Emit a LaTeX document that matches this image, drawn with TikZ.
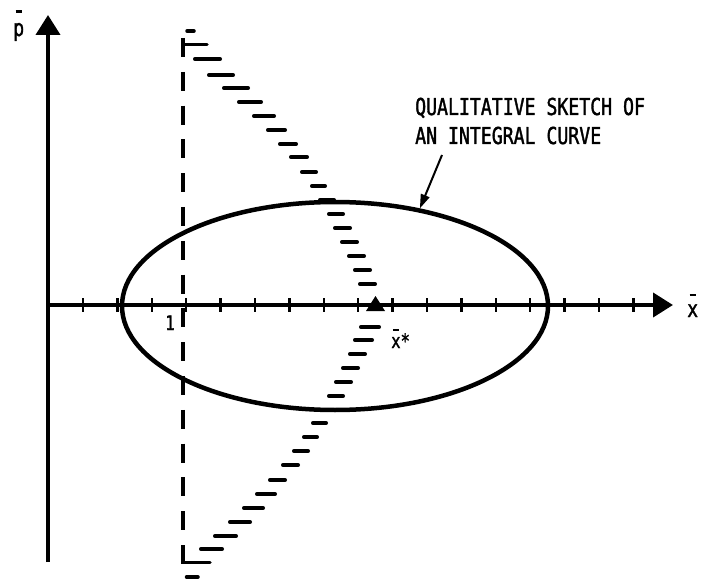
\documentclass[tikz,border=0pt]{standalone}
\usepackage{fontspec}
\usetikzlibrary{arrows.meta,shapes.geometric}
\newfontfamily\tw[FakeStretch=0.78,FakeBold=1.5]{DejaVu Sans Mono}
\newcommand\tb[2][21pt]{\setbox0\hbox{#2}\hbox to \wd0{\hss\rule[#1]{6pt}{2.5pt}\hss}\kern-\wd0\box0}
\begin{document}
\begin{tikzpicture}[x=1pt,y=-1pt,
  axis/.style={line width=4pt,-{Triangle[length=20pt,width=24pt]}},
  tickmark/.style={line width=2.5pt},
  hatch/.style={line width=3.5pt,line cap=round},
  lbl/.style={font=\tw\fontsize{23.3}{29}\selectfont, inner sep=0pt}
]
\useasboundingbox[fill=white] (0,0) rectangle (720,580);
% axes
\coordinate (O) at (48,305);
\coordinate (ybot) at (48,562);
\coordinate (ytop) at (48,15);
\coordinate (xend) at (673,305);
\draw[axis] (ybot) -- (ytop);
\draw[axis] (O) -- (xend);
\foreach \t in {0,...,16} \draw[tickmark] ({83+34.4*\t},298) -- ++(0,14);
% integral curve
\node[ellipse, draw, line width=4.5pt, minimum width=426pt, minimum height=208pt, inner sep=0pt] (curve) at (335,306) {};
% dashed line at 1
\draw[line width=3.5pt, dash pattern=on 19pt off 14.8pt] (183,38) -- (183,564);
% hatched boundary, upper
\foreach \y/\xl/\len in {284/358/19, 270/353/19, 256/347/19, 242/340/19, 228/333/19, 214/327/18, 200/318/18, 186/310/17, 172/300/18, 157/289/20, 144/278/20, 130/266/21, 116/252/24, 102/237/26, 88/222/28, 75/207/28, 59/193/29}
  \draw[hatch] ({\xl+1.75},\y) -- ({\xl+\len-1.75},\y);
% hatched boundary, lower
\foreach \y/\xl/\len in {327/359/22, 340/353/21, 354/348/19, 368/341/19, 382/334/19, 396/327/18, 410/319/18, 423/311/17, 437/302/17, 451/292/18, 465/281/19, 480/268/19, 494/255/22, 508/242/23, 522/228/24, 536/213/25, 549/199/25}
  \draw[hatch] ({\xl+1.75},\y) -- ({\xl+\len-1.75},\y);
% corners and end dashes
\draw[hatch] (183,44.5) -- (207,44.5);
\draw[hatch] (183,562.5) -- (210,562.5);
\draw[hatch] (187,31) -- (194,31);
\draw[hatch] (186.5,577) -- (198,577);
% x* mark
\fill (366,311) -- (375.5,296) -- (385,311) -- cycle;
% labels
\node[lbl, align=left, anchor=north west] (note) at (415,97.5) {QUALITATIVE SKETCH OF\\AN INTEGRAL CURVE};
\coordinate (a1) at (442,155);
\draw[line width=2pt, -{Triangle[length=14pt,width=9pt]}] (a1) -- (curve.49);
\node[lbl, anchor=base west] (plbl) at (13,36) {\tb[23pt]{p}};
\node[lbl, anchor=base west] (xlbl) at (687,317) {\tb{x}};
\node[lbl, font=\tw\fontsize{20}{24}\selectfont, anchor=base west] (xslbl) at (391,348) {\tb[17pt]{x}*};
\node[lbl, font=\tw\fontsize{20}{24}\selectfont, anchor=base] (one) at (170,330) {1};
\end{tikzpicture}
\end{document}
